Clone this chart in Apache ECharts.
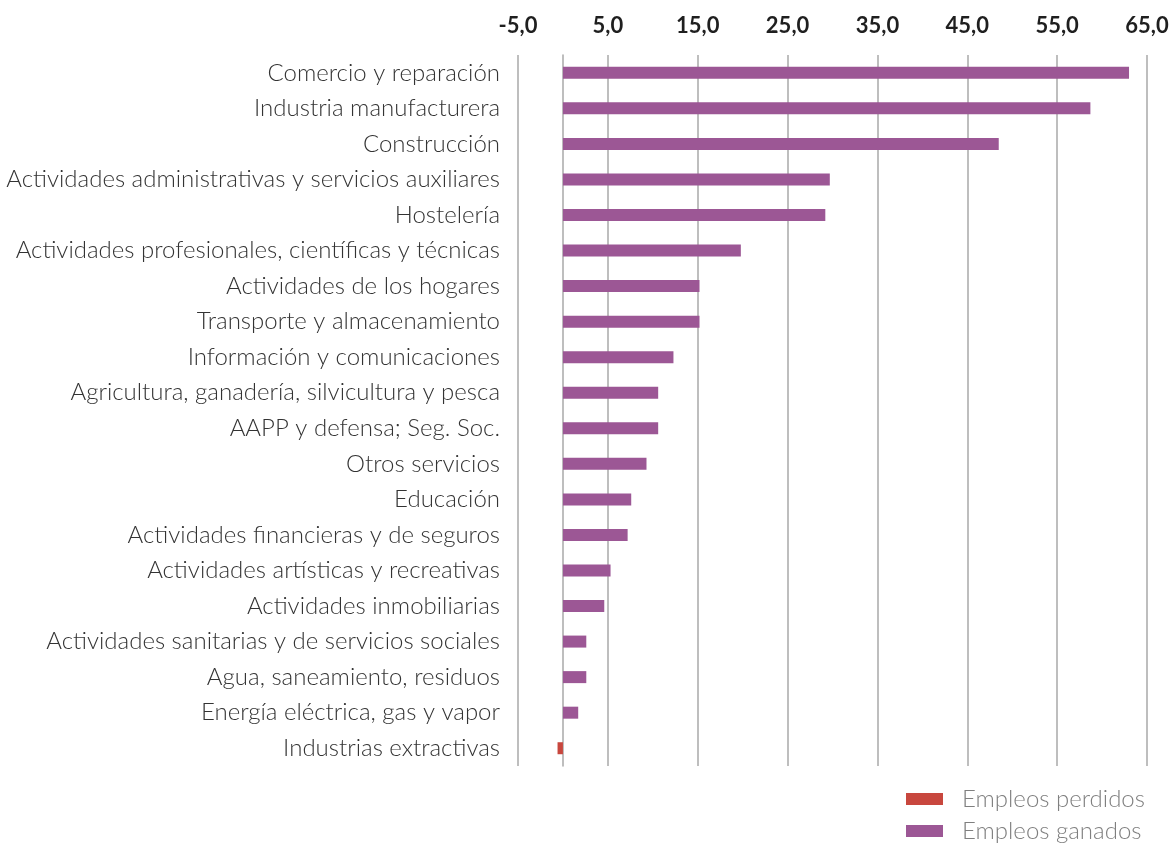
<!DOCTYPE html>
<html>
<head>
<meta charset="utf-8">
<script src="https://cdn.jsdelivr.net/npm/echarts@6.0.0/dist/echarts.min.js"></script>
<style>
  html, body { margin: 0; padding: 0; background: #fff; }
  #chart { width: 1174px; height: 845px; }
</style>
</head>
<body>
<div id="chart"></div>
<script>
// Sectors, top to bottom
const categories = [
  'Comercio y reparación',
  'Industria manufacturera',
  'Construcción',
  'Actividades administrativas y servicios auxiliares',
  'Hostelería',
  'Actividades profesionales, científicas y técnicas',
  'Actividades de los hogares',
  'Transporte y almacenamiento',
  'Información y comunicaciones',
  'Agricultura, ganadería, silvicultura y pesca',
  'AAPP y defensa; Seg. Soc.',
  'Otros servicios',
  'Educación',
  'Actividades financieras y de seguros',
  'Actividades artísticas y recreativas',
  'Actividades inmobiliarias',
  'Actividades sanitarias y de servicios sociales',
  'Agua, saneamiento, residuos',
  'Energía eléctrica, gas y vapor',
  'Industrias extractivas'
];

const empleosGanados = [63.0, 58.7, 48.5, 29.7, 29.2, 19.8, 15.2, 15.2, 12.3, 10.6,
  10.6, 9.3, 7.6, 7.2, 5.3, 4.6, 2.6, 2.6, 1.7, null];
const empleosPerdidos = [null, null, null, null, null, null, null, null, null, null,
  null, null, null, null, null, null, null, null, null, -0.6];

var chart = echarts.init(document.getElementById('chart'));

var option = {
  animation: false,
  grid: {
    left: 518,
    right: 27,
    top: 55,
    bottom: 79
  },
  legend: {
    orient: 'vertical',
    left: 901,
    top: 782,
    height: 70,
    itemWidth: 37,
    itemHeight: 12,
    itemGap: 8,
    icon: 'rect',
    data: ['Empleos perdidos', 'Empleos ganados'],
    textStyle: {
      fontFamily: 'Lato',
      fontWeight: 300,
      fontSize: 24,
      lineHeight: 24,
      color: '#7f7f7f',
      padding: [0, 0, 0, 14]
    }
  },
  xAxis: {
    type: 'value',
    position: 'top',
    min: -5,
    max: 65,
    interval: 10,
    axisLine: { show: false },
    axisTick: { show: false },
    axisLabel: {
      margin: 18,
      fontFamily: 'Lato',
      fontWeight: 'bold',
      fontSize: 22,
      color: '#1f1f1f',
      formatter: (v) => v.toFixed(1).replace('.', ',')
    },
    splitLine: {
      lineStyle: { color: '#a9a9a9', width: 1.5 }
    }
  },
  yAxis: {
    type: 'category',
    inverse: true,
    data: categories,
    axisLine: {
      onZero: true,
      lineStyle: { color: '#a9a9a9', width: 1.5 }
    },
    axisTick: { show: false },
    axisLabel: {
      margin: 18,
      fontFamily: 'Lato',
      fontWeight: 300,
      fontSize: 24,
      color: '#333333'
    }
  },
  series: [
    {
      name: 'Empleos perdidos',
      type: 'bar',
      stack: 'total',
      barWidth: 12,
      itemStyle: { color: '#C8473E' },
      data: empleosPerdidos
    },
    {
      name: 'Empleos ganados',
      type: 'bar',
      stack: 'total',
      barWidth: 12,
      itemStyle: { color: '#9C5795' },
      data: empleosGanados
    }
  ]
};

chart.setOption(option);
</script>
</body>
</html>
